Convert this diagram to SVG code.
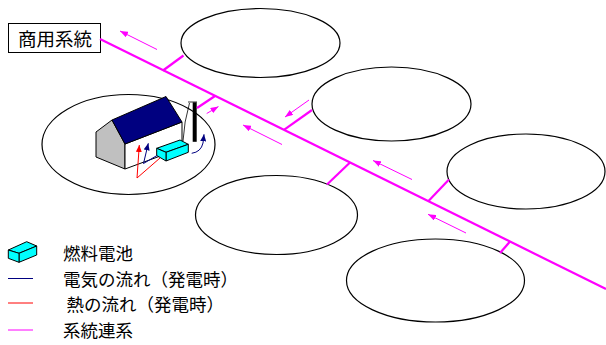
<svg xmlns="http://www.w3.org/2000/svg" width="606" height="345" viewBox="0 0 606 345">
  <style>
    .area { fill: #FFFFFF; stroke: #000000; stroke-width: 1.2; }
    .grid { stroke: #FF00FF; stroke-width: 2.2; fill: none; stroke-linecap: butt; }
    .flow { stroke: #FF00FF; stroke-width: 1; fill: none; marker-end: url(#headMag); }
    .txt { font-family: "Noto Sans CJK JP", "Noto Sans CJK SC", sans-serif; fill: #000000; }
    .edge { stroke: #000000; stroke-width: 1; stroke-linejoin: round; }
  </style>
  <defs>
    <marker id="headMag" markerUnits="userSpaceOnUse" markerWidth="8" markerHeight="6" refX="8" refY="3" orient="auto">
      <path d="M0,0 L8,3 L0,6 Z" fill="#FF00FF"/>
    </marker>
    <marker id="headRed" markerUnits="userSpaceOnUse" markerWidth="7" markerHeight="6" refX="7" refY="3" orient="auto">
      <path d="M0,0 L7,3 L0,6 Z" fill="#FF0000"/>
    </marker>
    <marker id="headNavy" markerUnits="userSpaceOnUse" markerWidth="7" markerHeight="6" refX="7" refY="3" orient="auto">
      <path d="M0,0 L7,3 L0,6 Z" fill="#000080"/>
    </marker>
  </defs>

  <rect width="606" height="345" fill="#FFFFFF"/>

  <!-- consumer areas -->
  <g id="area-home">
    <ellipse class="area" cx="128.5" cy="144.5" rx="86.5" ry="50"/>
  </g>
  <g id="area-1">
    <ellipse class="area" cx="260.5" cy="43" rx="79.5" ry="34.5"/>
  </g>
  <g id="area-2">
    <ellipse class="area" cx="391.5" cy="104" rx="79.5" ry="37"/>
  </g>
  <g id="area-3">
    <ellipse class="area" cx="526" cy="171.5" rx="79" ry="37.5"/>
  </g>
  <g id="area-4">
    <ellipse class="area" cx="276.5" cy="215" rx="81" ry="39.5"/>
  </g>
  <g id="area-5">
    <ellipse class="area" cx="435.5" cy="280.5" rx="89" ry="41.5"/>
  </g>

  <!-- house with fuel cell and utility pole -->
  <g id="house">
    <polygon points="112,120 96,132 96,157 125,169 125,144" fill="#C0C0C0" class="edge"/>
    <polygon points="125,144 182,122 182,148 125,169" fill="#FFFFFF" class="edge"/>
    <polygon points="112,120 166,96.5 182,122 125,144" fill="#000080" class="edge"/>
    <path d="M189.5,103 Q184,122 183,141" fill="none" stroke="#000000" stroke-width="0.8"/>
    <line x1="188" y1="102" x2="197" y2="102" stroke="#000000" stroke-width="0.8"/>
    <rect x="192.7" y="102.3" width="4" height="39.5" fill="#000000"/>
  </g>
  <g id="fuel-cell">
    <polygon points="156.7,148.3 180,140 188.3,144.3 166,152.3" fill="#00FFFF" class="edge"/>
    <polygon points="166,152.3 188.3,144.3 188.3,152.3 166,161" fill="#00FFFF" class="edge"/>
    <polygon points="156.7,148.3 166,152.3 166,161 156.7,155.5" fill="#00FFFF" class="edge"/>
  </g>
  <g id="home-flows">
    <polyline points="160,158 137,178 139.3,145" fill="none" stroke="#FF0000" stroke-width="1" marker-end="url(#headRed)"/>
    <polyline points="157,155.5 143.5,163.5 148.3,143.3" fill="none" stroke="#000080" stroke-width="1" marker-end="url(#headNavy)"/>
    <path d="M191.7,153.3 Q201,152 203,143 L204,134.3" fill="none" stroke="#000080" stroke-width="1" marker-end="url(#headNavy)"/>
  </g>

  <!-- grid label -->
  <g id="label-grid">
    <rect x="8.5" y="23.5" width="92" height="29" fill="#FFFFFF" stroke="#000000" stroke-width="1"/>
    <text class="txt" x="18" y="46" font-size="18.5">商用系統</text>
  </g>

  <!-- power lines and flow arrows -->
  <g id="connectors">
    <line class="grid" x1="100" y1="39" x2="606" y2="289"/>
    <line class="grid" x1="163" y1="70.5" x2="183.5" y2="55.5"/>
    <line class="grid" x1="215" y1="96" x2="197" y2="108"/>
    <line class="grid" x1="284.3" y1="129.7" x2="312" y2="110"/>
    <line class="grid" x1="350" y1="162.5" x2="327" y2="184.5"/>
    <line class="grid" x1="428.5" y1="201" x2="449" y2="179.5"/>
    <line class="grid" x1="510" y1="241.5" x2="500" y2="253"/>

    <line class="flow" x1="157" y1="49.5" x2="120" y2="31"/>
    <line class="flow" x1="206.7" y1="113.5" x2="218.5" y2="106.5"/>
    <line class="flow" x1="309" y1="100" x2="285" y2="117"/>
    <line class="flow" x1="282" y1="144.5" x2="243" y2="125"/>
    <line class="flow" x1="412" y1="179.5" x2="373" y2="160.5"/>
    <line class="flow" x1="466" y1="233" x2="428" y2="214.3"/>
  </g>

  <!-- legend -->
  <g id="legend-fuel-cell">
    <polygon points="8.3,250 26.7,241.7 36.7,246 19,253.3" fill="#00FFFF" class="edge"/>
    <polygon points="19,253.3 36.7,246 36.7,255 19,262.3" fill="#00FFFF" class="edge"/>
    <polygon points="8.3,250 19,253.3 19,262.3 8.3,258.3" fill="#00FFFF" class="edge"/>
    <text class="txt" x="63" y="259.5" font-size="17.5">燃料電池</text>
  </g>
  <g id="legend-electric">
    <line x1="8" y1="278.5" x2="33" y2="278.5" stroke="#000080" stroke-width="1"/>
    <text class="txt" x="63" y="286" font-size="17.5">電気の流れ（発電時）</text>
  </g>
  <g id="legend-heat">
    <line x1="8" y1="303" x2="33" y2="303" stroke="#FF0000" stroke-width="1"/>
    <text class="txt" x="66.5" y="310.5" font-size="17.5">熱の流れ（発電時）</text>
  </g>
  <g id="legend-grid">
    <line x1="8" y1="330" x2="33" y2="330" stroke="#FF00FF" stroke-width="1"/>
    <text class="txt" x="63" y="337" font-size="17.5">系統連系</text>
  </g>
</svg>
